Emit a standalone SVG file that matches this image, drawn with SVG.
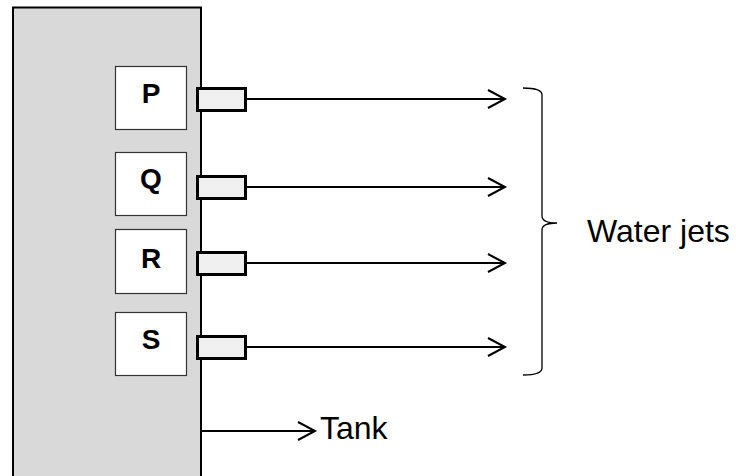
<svg xmlns="http://www.w3.org/2000/svg" width="736" height="476" viewBox="0 0 736 476">
<style>
.box{fill:#fff;stroke:#333;stroke-width:1.2}
.lbl{font-family:"Liberation Sans",Arial,sans-serif;font-weight:bold;font-size:28px;text-anchor:middle;fill:#000}
.noz{fill:#f0f0f0;stroke:#000;stroke-width:3}
.jet{stroke:#000;stroke-width:2;fill:none}
.head{stroke:#000;stroke-width:2;fill:none}
.txt{font-family:"Liberation Sans",Arial,sans-serif;font-size:32px;fill:#000}
</style>
<rect width="736" height="476" fill="#fff"/>
<g id="tank">
<rect x="13" y="7.5" width="188" height="480" fill="#d9d9d9" stroke="#000" stroke-width="2"/>
</g>
<g id="P"><rect class="box" x="115.5" y="66.5" width="71" height="63"/><text class="lbl" x="151" y="103">P</text></g>
<g id="Q"><rect class="box" x="115.5" y="152.5" width="71" height="63"/><text class="lbl" x="151" y="188">Q</text></g>
<g id="R"><rect class="box" x="115.5" y="229.5" width="71" height="64"/><text class="lbl" x="151" y="268">R</text></g>
<g id="S"><rect class="box" x="115.5" y="312.5" width="71" height="63"/><text class="lbl" x="151" y="349">S</text></g>
<g id="nozzles">
<rect class="noz" x="197.5" y="88.5" width="48" height="22"/>
<rect class="noz" x="197.5" y="176.5" width="48" height="22"/>
<rect class="noz" x="197.5" y="252.5" width="48" height="22"/>
<rect class="noz" x="197.5" y="336.5" width="48" height="22"/>
</g>
<g id="connectors">
<line class="jet" x1="247" y1="99" x2="504" y2="99"/>
<polyline class="head" points="488,90 505,99 488,108"/>
<line class="jet" x1="247" y1="187" x2="504" y2="187"/>
<polyline class="head" points="488,178 505,187 488,196"/>
<line class="jet" x1="247" y1="263" x2="504" y2="263"/>
<polyline class="head" points="488,254 505,263 488,272"/>
<line class="jet" x1="247" y1="347" x2="504" y2="347"/>
<polyline class="head" points="488,338 505,347 488,356"/>
<line class="jet" x1="201" y1="431" x2="315" y2="431"/>
<polyline class="head" points="298,422 315,431 298,440"/>
<path d="M523,88 Q542,88 542,95 L542,216 Q542,223 557,223 Q542,223 542,230 L542,368 Q542,375 523,375" fill="none" stroke="#000" stroke-width="1.3"/>
</g>
<g id="labels">
<text class="txt" x="320" y="439">Tank</text>
<text class="txt" x="587" y="242">Water jets</text>
</g>
</svg>
